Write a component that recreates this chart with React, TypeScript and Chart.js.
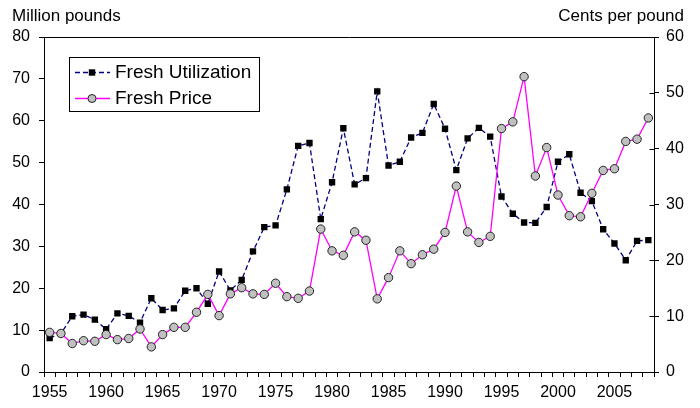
import React, { useEffect, useRef } from 'react';
import { Chart, registerables } from 'chart.js';

Chart.register(...registerables);

const years = [
  '1955', '1956', '1957', '1958', '1959', '1960', '1961', '1962', '1963', '1964',
  '1965', '1966', '1967', '1968', '1969', '1970', '1971', '1972', '1973', '1974',
  '1975', '1976', '1977', '1978', '1979', '1980', '1981', '1982', '1983', '1984',
  '1985', '1986', '1987', '1988', '1989', '1990', '1991', '1992', '1993', '1994',
  '1995', '1996', '1997', '1998', '1999', '2000', '2001', '2002', '2003', '2004',
  '2005', '2006', '2007', '2008',
];

const freshUtilization = [
  8.1, 9.2, 13.3, 13.7, 12.5, 10.2, 14.0, 13.4, 11.8, 17.6,
  14.8, 15.2, 19.4, 20.0, 16.3, 24.0, 19.5, 22.0, 28.8, 34.6,
  35.0, 43.6, 54.0, 54.7, 36.5, 45.3, 58.2, 44.8, 46.3, 67.0,
  49.3, 50.2, 56.0, 57.1, 64.0, 58.1, 48.2, 55.8, 58.3, 56.2,
  41.9, 37.8, 35.7, 35.6, 39.4, 50.2, 52.0, 42.8, 40.8, 34.1,
  30.7, 26.7, 31.3, 31.5,
];

const freshPrice = [
  7.1, 6.9, 5.1, 5.6, 5.5, 6.7, 5.8, 6.0, 7.7, 4.5,
  6.7, 8.0, 8.0, 10.7, 13.9, 10.1, 14.0, 15.1, 14.0, 13.9,
  15.9, 13.5, 13.2, 14.5, 25.6, 21.7, 20.9, 25.1, 23.6, 13.1,
  16.9, 21.7, 19.4, 21.0, 22.0, 25.0, 33.3, 25.1, 23.2, 24.3,
  43.6, 44.8, 52.9, 35.1, 40.2, 31.7, 28.0, 27.8, 32.0, 36.1,
  36.4, 41.3, 41.7, 45.5,
];

const leftTitle = 'Million pounds';
const rightTitle = 'Cents per pound';
const seriesNames = ['Fresh Utilization', 'Fresh Price'];

const FONT = '"Liberation Sans", Arial, sans-serif';
const UTIL_LINE = '#000080';
const PRICE_LINE = '#ff00ff';
const PRICE_FILL = '#c0c0c0';

const decorPlugin = {
  id: 'decor',
  afterDraw(chart: any) {
    const { ctx, chartArea } = chart;
    ctx.save();
    // top border
    ctx.strokeStyle = '#000';
    ctx.lineWidth = 1;
    ctx.beginPath();
    ctx.moveTo(Math.round(chartArea.left) + 0.5, Math.round(chartArea.top) + 0.5);
    ctx.lineTo(Math.round(chartArea.right) + 0.5, Math.round(chartArea.top) + 0.5);
    ctx.stroke();
    // inner part of right axis ticks (cross style)
    const y1 = chart.scales.y1;
    const rx = Math.round(chartArea.right) + 0.5;
    y1.ticks.forEach((t: any, i: number) => {
      const py = Math.round(y1.getPixelForTick(i)) + 0.5;
      ctx.beginPath();
      ctx.moveTo(rx - 5, py);
      ctx.lineTo(rx, py);
      ctx.stroke();
    });
    // axis titles
    ctx.fillStyle = '#000';
    ctx.font = `17px ${FONT}`;
    ctx.textBaseline = 'alphabetic';
    ctx.textAlign = 'left';
    ctx.fillText(leftTitle, 12, 21);
    ctx.textAlign = 'right';
    ctx.fillText(rightTitle, 684, 21);

    // legend
    const bx = 69.5, by = 57.5, bw = 190, bh = 54;
    ctx.fillStyle = '#fff';
    ctx.fillRect(bx, by, bw, bh);
    ctx.strokeStyle = '#000';
    ctx.lineWidth = 1;
    ctx.strokeRect(bx, by, bw, bh);

    // row 1
    const r1 = 72.5;
    ctx.strokeStyle = UTIL_LINE;
    ctx.lineWidth = 1.3;
    ctx.setLineDash([5, 3]);
    ctx.beginPath();
    ctx.moveTo(75, r1);
    ctx.lineTo(110, r1);
    ctx.stroke();
    ctx.setLineDash([]);
    ctx.fillStyle = '#000';
    ctx.fillRect(92 - 3.2, r1 - 3.2, 6.4, 6.4);

    // row 2
    const r2 = 98.5;
    ctx.strokeStyle = PRICE_LINE;
    ctx.lineWidth = 1.3;
    ctx.beginPath();
    ctx.moveTo(75, r2);
    ctx.lineTo(110, r2);
    ctx.stroke();
    ctx.beginPath();
    ctx.arc(92, r2, 4, 0, Math.PI * 2);
    ctx.fillStyle = PRICE_FILL;
    ctx.fill();
    ctx.strokeStyle = '#222';
    ctx.lineWidth = 1;
    ctx.stroke();

    ctx.fillStyle = '#000';
    ctx.font = `19px ${FONT}`;
    ctx.textAlign = 'left';
    ctx.textBaseline = 'middle';
    ctx.fillText(seriesNames[0], 115, r1);
    ctx.fillText(seriesNames[1], 115, r2);
    ctx.restore();
  },
};

export default function App() {
  const ref = useRef<HTMLCanvasElement | null>(null);

  useEffect(() => {
    document.body.style.margin = '0';
    const canvas = ref.current;
    if (!canvas) return;
    const chart = new Chart(canvas, {
      type: 'line',
      data: {
        labels: years,
        datasets: [
          {
            label: seriesNames[0],
            data: freshUtilization,
            yAxisID: 'y',
            borderColor: UTIL_LINE,
            borderWidth: 1.3,
            borderDash: [5, 3],
            pointStyle: 'rect',
            pointRadius: 4.5,
            pointBackgroundColor: '#000',
            pointBorderColor: '#000',
            pointBorderWidth: 0,
            tension: 0,
            fill: false,
            order: 1,
          },
          {
            label: seriesNames[1],
            data: freshPrice,
            yAxisID: 'y1',
            borderColor: PRICE_LINE,
            borderWidth: 1.3,
            pointStyle: 'circle',
            pointRadius: 4.2,
            pointBackgroundColor: PRICE_FILL,
            pointBorderColor: '#222',
            pointBorderWidth: 1,
            tension: 0,
            fill: false,
            order: 0,
          },
        ],
      },
      options: {
        responsive: false,
        animation: false,
        devicePixelRatio: 1,
        layout: { padding: { top: 37, left: 0, right: 0, bottom: 0 } },
        plugins: {
          legend: { display: false },
          tooltip: { enabled: false },
          title: { display: false },
        },
        scales: {
          x: {
            type: 'category',
            offset: true,
            afterFit: (s: any) => { s.height = 36; },
            grid: {
              display: true,
              drawOnChartArea: false,
              drawTicks: true,
              tickLength: 5,
              color: '#000',
              offset: true,
            },
            border: { display: true, color: '#000', width: 1 },
            ticks: {
              autoSkip: false,
              maxRotation: 0,
              minRotation: 0,
              padding: 6,
              color: '#000',
              font: { family: FONT, size: 16 },
              callback: (_v: any, i: number) => (Number(years[i]) % 5 === 0 ? years[i] : ''),
            },
          },
          y: {
            type: 'linear',
            position: 'left',
            min: 0,
            max: 80,
            afterFit: (s: any) => { s.width = 44; },
            grid: { drawOnChartArea: false, tickLength: 5, color: '#000' },
            border: { display: true, color: '#000', width: 1 },
            ticks: {
              stepSize: 10,
              padding: 9,
              color: '#000',
              font: { family: FONT, size: 16 },
            },
          },
          y1: {
            type: 'linear',
            position: 'right',
            min: 0,
            max: 60,
            afterFit: (s: any) => { s.width = 46; },
            grid: { drawOnChartArea: false, tickLength: 5, color: '#000' },
            border: { display: true, color: '#000', width: 1 },
            ticks: {
              stepSize: 10,
              padding: 7,
              color: '#000',
              font: { family: FONT, size: 16 },
            },
          },
        },
      },
      plugins: [decorPlugin],
    });
    return () => chart.destroy();
  }, []);

  return (
    <div style={{ position: 'absolute', left: 0, top: 0, width: 700, height: 408 }}>
      <canvas ref={ref} width={700} height={408} style={{ display: 'block', width: 700, height: 408 }} />
    </div>
  );
}
